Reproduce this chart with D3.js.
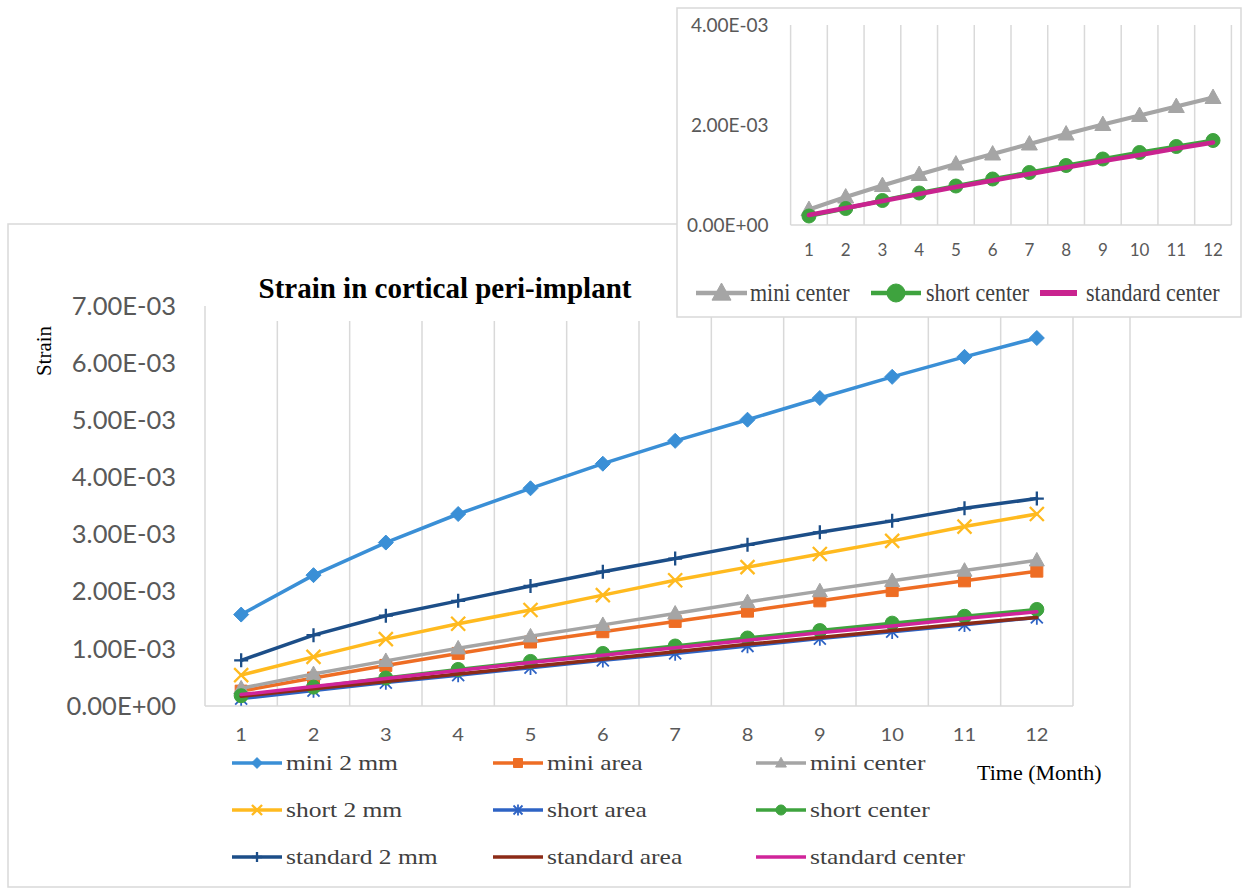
<!DOCTYPE html>
<html>
<head>
<meta charset="utf-8">
<script src="https://cdn.jsdelivr.net/npm/d3@7"></script>
<style>
  html, body { margin: 0; padding: 0; background: #fff; }
  svg { display: block; }
</style>
</head>
<body>
<svg id="chart" width="1244" height="889"></svg>
<script>
// ---------------- DATA ----------------
const months = [1, 2, 3, 4, 5, 6, 7, 8, 9, 10, 11, 12];
const yTicksMain = [0, 0.001, 0.002, 0.003, 0.004, 0.005, 0.006, 0.007];
const yTicksInset = [0, 0.002, 0.004];

const mini2mm       = [1.60e-3, 2.29e-3, 2.86e-3, 3.36e-3, 3.81e-3, 4.24e-3, 4.64e-3, 5.01e-3, 5.39e-3, 5.76e-3, 6.11e-3, 6.44e-3];
const miniArea      = [0.26e-3, 0.49e-3, 0.71e-3, 0.92e-3, 1.12e-3, 1.30e-3, 1.48e-3, 1.66e-3, 1.84e-3, 2.02e-3, 2.19e-3, 2.36e-3];
const miniCenter    = [0.31e-3, 0.56e-3, 0.79e-3, 1.01e-3, 1.22e-3, 1.42e-3, 1.62e-3, 1.82e-3, 2.01e-3, 2.19e-3, 2.37e-3, 2.55e-3];
const short2mm      = [0.54e-3, 0.86e-3, 1.17e-3, 1.44e-3, 1.68e-3, 1.94e-3, 2.20e-3, 2.43e-3, 2.66e-3, 2.89e-3, 3.14e-3, 3.36e-3];
const shortArea     = [0.13e-3, 0.27e-3, 0.41e-3, 0.54e-3, 0.67e-3, 0.80e-3, 0.92e-3, 1.05e-3, 1.18e-3, 1.30e-3, 1.42e-3, 1.55e-3];
const shortCenter   = [0.18e-3, 0.33e-3, 0.49e-3, 0.64e-3, 0.78e-3, 0.92e-3, 1.05e-3, 1.19e-3, 1.32e-3, 1.45e-3, 1.57e-3, 1.69e-3];
const standard2mm   = [0.80e-3, 1.24e-3, 1.58e-3, 1.84e-3, 2.10e-3, 2.35e-3, 2.58e-3, 2.82e-3, 3.04e-3, 3.24e-3, 3.46e-3, 3.63e-3];
const standardArea  = [0.17e-3, 0.30e-3, 0.43e-3, 0.56e-3, 0.69e-3, 0.82e-3, 0.95e-3, 1.08e-3, 1.20e-3, 1.32e-3, 1.44e-3, 1.55e-3];
const standardCenter= [0.20e-3, 0.34e-3, 0.48e-3, 0.62e-3, 0.76e-3, 0.89e-3, 1.02e-3, 1.15e-3, 1.28e-3, 1.40e-3, 1.53e-3, 1.65e-3];

const seriesNames = ["mini 2 mm", "mini area", "mini center",
                     "short 2 mm", "short area", "short center",
                     "standard 2 mm", "standard area", "standard center"];
const seriesValues = [mini2mm, miniArea, miniCenter, short2mm, shortArea, shortCenter, standard2mm, standardArea, standardCenter];
const insetNames = ["mini center", "short center", "standard center"];
const insetValues = [miniCenter, shortCenter, standardCenter];

const titleText = "Strain in cortical peri-implant";
const yTitle = "Strain";
const xTitle = "Time (Month)";

// ---------------- STYLE ----------------
const styles = {
  "mini 2 mm":       {color: "#3a8fd6", marker: "diamond", r: 7.5},
  "mini area":       {color: "#ee6d24", marker: "square", r: 6},
  "mini center":     {color: "#a5a5a5", marker: "triangle", r: 7.5},
  "short 2 mm":      {color: "#ffba1f", marker: "x", r: 7},
  "short area":      {color: "#2e63c4", marker: "asterisk", r: 6},
  "short center":    {color: "#3ea33e", marker: "circle", r: 7},
  "standard 2 mm":   {color: "#1c4e88", marker: "plus", r: 7},
  "standard area":   {color: "#8c2b17", marker: "none", r: 0},
  "standard center": {color: "#d0249a", marker: "none", r: 0}
};

function markerPath(type, r) {
  const p = d3.path();
  switch (type) {
    case "diamond": p.moveTo(0,-r); p.lineTo(r,0); p.lineTo(0,r); p.lineTo(-r,0); p.closePath(); break;
    case "square": p.rect(-r,-r,2*r,2*r); break;
    case "triangle": p.moveTo(0,-r*1.05); p.lineTo(r,r*0.75); p.lineTo(-r,r*0.75); p.closePath(); break;
    case "x": p.moveTo(-r,-r); p.lineTo(r,r); p.moveTo(-r,r); p.lineTo(r,-r); break;
    case "asterisk": p.moveTo(-r,-r); p.lineTo(r,r); p.moveTo(-r,r); p.lineTo(r,-r); p.moveTo(0,-r*1.2); p.lineTo(0,r*1.2); break;
    case "circle": p.arc(0,0,r,0,2*Math.PI); p.closePath(); break;
    case "plus": p.moveTo(0,-r); p.lineTo(0,r); p.moveTo(-r,0); p.lineTo(r,0); break;
  }
  return p.toString();
}
const strokeMarkers = new Set(["x", "asterisk", "plus"]);

function drawMarker(g, type, r, color) {
  if (type === "none") return;
  const path = g.append("path").attr("d", markerPath(type, r));
  if (strokeMarkers.has(type)) {
    path.attr("fill", "none").attr("stroke", color).attr("stroke-width", type === "asterisk" ? 1.8 : 2.3);
  } else {
    path.attr("fill", color).attr("stroke", color).attr("stroke-width", 1);
  }
}

function sciFormat(v) {
  const [m, e] = v.toExponential(2).split("e");
  const sign = e[0] === "-" ? "-" : "+";
  const digits = e.replace(/^[+-]/, "").padStart(2, "0");
  return m + "E" + sign + digits;
}

const svg = d3.select("#chart");
const GRID = "#d9d9d9";
const TICKC = "#595959";
const SANS = "Lato, 'Open Sans', sans-serif";
const SERIF = "'Liberation Serif', 'Times New Roman', serif";

// ---------------- MAIN CHART ----------------
svg.append("rect").attr("x", 8).attr("y", 224).attr("width", 1122).attr("height", 663)
  .attr("fill", "#fff").attr("stroke", GRID).attr("stroke-width", 1.5);

const x = d3.scaleBand().domain(months).range([205, 1073]).paddingInner(0).paddingOuter(0);
const y = d3.scaleLinear().domain([0, 0.007]).range([706, 306]);

const main = svg.append("g");
const bounds = months.map(m => x(m)).concat([x(12) + x.bandwidth()]);
main.append("g").selectAll("line").data(bounds).join("line")
  .attr("x1", d => d).attr("x2", d => d)
  .attr("y1", y(0.007)).attr("y2", y(0))
  .attr("stroke", GRID).attr("stroke-width", 1.5);
main.append("line").attr("x1", x.range()[0]).attr("x2", x.range()[1])
  .attr("y1", y(0)).attr("y2", y(0)).attr("stroke", GRID).attr("stroke-width", 1.5);

main.append("rect").attr("x", 240).attr("y", 266).attr("width", 460).attr("height", 55).attr("fill", "#fff");
main.append("text").attr("x", 445).attr("y", 298).attr("text-anchor", "middle")
  .attr("font-family", SERIF).attr("font-weight", "bold").attr("font-size", 29).attr("fill", "#000")
  .text(titleText);

const yAxis = d3.axisLeft(y).tickValues(yTicksMain).tickFormat(sciFormat).tickSize(0).tickPadding(29);
const gy = main.append("g").attr("transform", `translate(${x.range()[0]},0)`).call(yAxis);
gy.select(".domain").remove();
gy.selectAll("text").attr("font-family", SANS).attr("font-size", 25.5).attr("fill", TICKC);

const xAxis = d3.axisBottom(x).tickSize(0).tickPadding(23);
const gx = main.append("g").attr("transform", `translate(0,${y(0)})`).call(xAxis);
gx.select(".domain").remove();
gx.selectAll("text").attr("font-family", SANS).attr("font-size", 17).attr("fill", TICKC)
  .attr("transform", "scale(1.18,1)");

main.append("text").attr("transform", "translate(44,351) rotate(-90)").attr("text-anchor", "middle")
  .attr("dy", "0.35em").attr("font-family", SERIF).attr("font-size", 21).attr("fill", "#000").text(yTitle);
main.append("text").attr("x", 977).attr("y", 772).attr("dy", "0.35em")
  .attr("font-family", SERIF).attr("font-size", 22).attr("fill", "#000").text(xTitle);

const cx = m => x(m) + x.bandwidth() / 2;
const line = d3.line().x((d, i) => cx(months[i])).y(d => y(d));
seriesNames.forEach((name, si) => {
  const st = styles[name];
  const vals = seriesValues[si];
  const g = main.append("g");
  g.append("path").attr("d", line(vals)).attr("fill", "none").attr("stroke", st.color)
    .attr("stroke-width", 3.5).attr("stroke-linejoin", "round").attr("stroke-linecap", "round");
  vals.forEach((v, i) => {
    const mg = g.append("g").attr("transform", `translate(${cx(months[i])},${y(v)})`);
    drawMarker(mg, st.marker, st.r, st.color);
  });
});

const legCols = [232, 493, 756];
const legRows = [763, 810, 857];
const legend = main.append("g");
seriesNames.forEach((name, i) => {
  const st = styles[name];
  const lx = legCols[i % 3], ly = legRows[Math.floor(i / 3)];
  const g = legend.append("g").attr("transform", `translate(${lx},${ly})`);
  g.append("line").attr("x1", 0).attr("x2", 50).attr("y1", 0).attr("y2", 0)
    .attr("stroke", st.color).attr("stroke-width", 3.5);
  const mg = g.append("g").attr("transform", "translate(25,0)");
  drawMarker(mg, st.marker, Math.max(4.5, st.r * 0.72), st.color);
  g.append("text").attr("transform", "translate(54,0) scale(1.16,1)").attr("dy", "0.33em")
    .attr("font-family", SERIF).attr("font-size", 22).attr("fill", "#404040").text(name);
});

// ---------------- INSET ----------------
const inset = svg.append("g");
inset.append("rect").attr("x", 677).attr("y", 8).attr("width", 564).attr("height", 309)
  .attr("fill", "#fff").attr("stroke", GRID).attr("stroke-width", 1.5);

const xi = d3.scaleBand().domain(months).range([790.6, 1231.4]).paddingInner(0).paddingOuter(0);
const yi = d3.scaleLinear().domain([0, 0.004]).range([225, 25]);
const boundsI = months.map(m => xi(m)).concat([xi(12) + xi.bandwidth()]);
inset.append("g").selectAll("line").data(boundsI).join("line")
  .attr("x1", d => d).attr("x2", d => d).attr("y1", yi(0.004)).attr("y2", yi(0))
  .attr("stroke", GRID).attr("stroke-width", 1.5);
inset.append("line").attr("x1", xi.range()[0]).attr("x2", xi.range()[1])
  .attr("y1", yi(0)).attr("y2", yi(0)).attr("stroke", GRID).attr("stroke-width", 1.5);

const yAxisI = d3.axisLeft(yi).tickValues(yTicksInset).tickFormat(sciFormat).tickSize(0).tickPadding(22);
const gyi = inset.append("g").attr("transform", `translate(${xi.range()[0]},0)`).call(yAxisI);
gyi.select(".domain").remove();
gyi.selectAll("text").attr("font-family", SANS).attr("font-size", 19).attr("fill", TICKC);

const xAxisI = d3.axisBottom(xi).tickSize(0).tickPadding(19);
const gxi = inset.append("g").attr("transform", `translate(0,${yi(0)})`).call(xAxisI);
gxi.select(".domain").remove();
gxi.selectAll("text").attr("font-family", SANS).attr("font-size", 17).attr("fill", TICKC);

const cxi = m => xi(m) + xi.bandwidth() / 2;
const lineI = d3.line().x((d, i) => cxi(months[i])).y(d => yi(d));
const insetStyles = {
  "mini center":     {color: "#a5a5a5", marker: "triangle", r: 8, w: 4},
  "short center":    {color: "#3ea33e", marker: "circle", r: 7, w: 4},
  "standard center": {color: "#c9238f", marker: "none", r: 0, w: 4.5}
};
insetNames.forEach((name, si) => {
  const st = insetStyles[name];
  const g = inset.append("g");
  g.append("path").attr("d", lineI(insetValues[si])).attr("fill", "none").attr("stroke", st.color)
    .attr("stroke-width", st.w).attr("stroke-linejoin", "round").attr("stroke-linecap", "round");
  insetValues[si].forEach((v, i) => {
    const mg = g.append("g").attr("transform", `translate(${cxi(months[i])},${yi(v)})`);
    drawMarker(mg, st.marker, st.r, st.color);
  });
});

const insetLeg = [{lx: 696, lw: 51, tx: 750}, {lx: 871, lw: 50, tx: 926}, {lx: 1040, lw: 37, tx: 1086}];
insetNames.forEach((name, i) => {
  const st = insetStyles[name];
  const L = insetLeg[i];
  const g = inset.append("g").attr("transform", `translate(0,293)`);
  g.append("line").attr("x1", L.lx).attr("x2", L.lx + L.lw).attr("y1", 0).attr("y2", 0)
    .attr("stroke", st.color).attr("stroke-width", name === "standard center" ? 6 : 4.5);
  const mg = g.append("g").attr("transform", `translate(${L.lx + L.lw / 2},0)`);
  drawMarker(mg, st.marker, st.marker === "circle" ? 9 : 9.5, st.color);
  g.append("text").attr("transform", `translate(${L.tx},0) scale(0.88,1)`).attr("dy", "0.33em")
    .attr("font-family", SERIF).attr("font-size", 25).attr("fill", "#404040").text(name);
});
</script>
</body>
</html>
